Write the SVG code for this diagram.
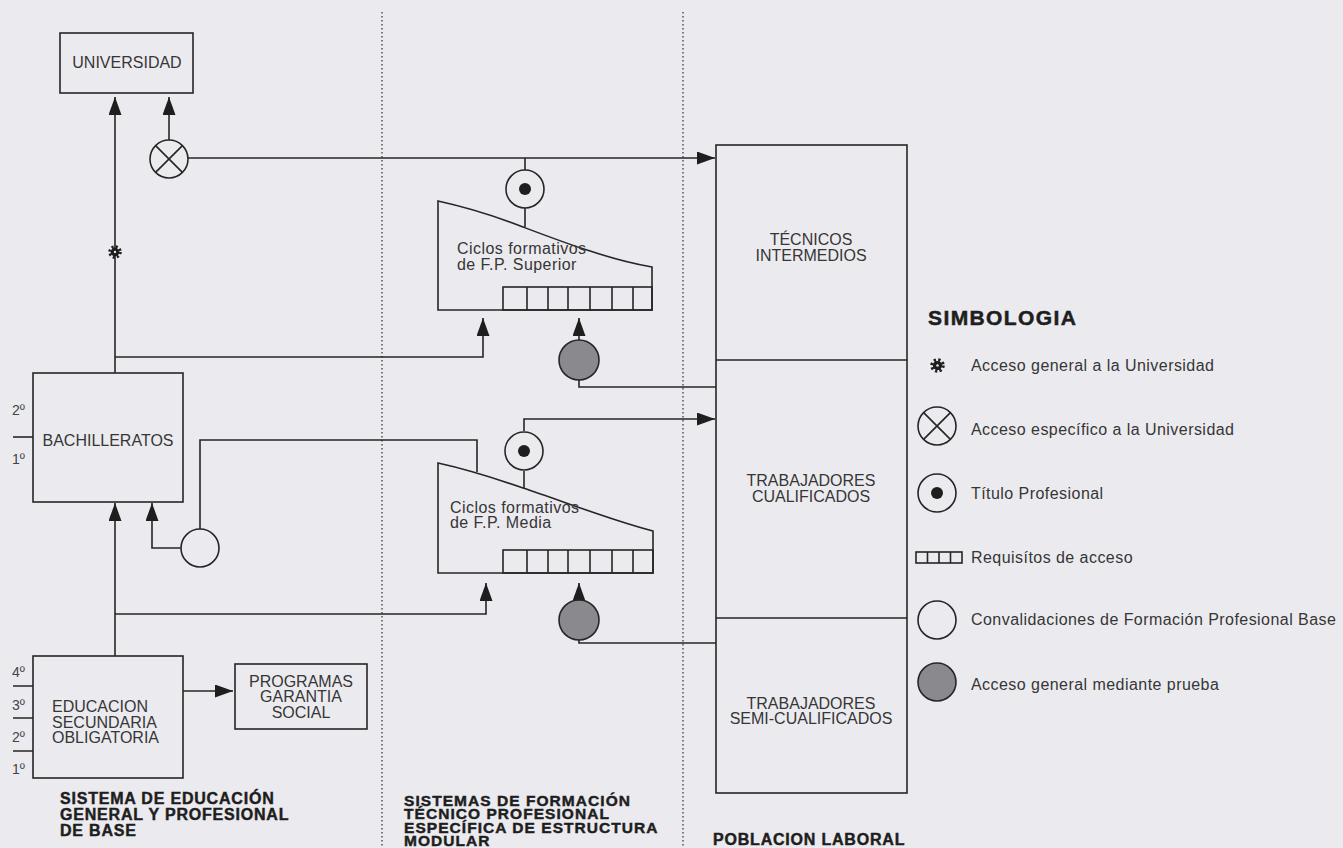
<svg xmlns="http://www.w3.org/2000/svg" width="1343" height="848" viewBox="0 0 1343 848">
<defs>
<style>
.bg{fill:#ebebef}
.box{fill:none;stroke:#262626;stroke-width:1.6}
.ln{fill:none;stroke:#262626;stroke-width:1.6}
.dot{fill:none;stroke:#555;stroke-width:1.5;stroke-dasharray:1.5 2.5}
.t{font-family:"Liberation Sans",Arial,Helvetica,sans-serif;font-size:16px;fill:#363636}
.tc{text-anchor:middle}
.lc{letter-spacing:0.45px}
.ord{font-family:"Liberation Sans",Arial,Helvetica,sans-serif;font-size:14px;fill:#444}
.h{font-family:"Liberation Sans",Arial,Helvetica,sans-serif;font-size:16px;font-weight:bold;fill:#1e1e1e;stroke:#1e1e1e;stroke-width:0.45;letter-spacing:0.8px}
.h2{font-size:15.5px;letter-spacing:1.05px}
.sym{fill:none;stroke:#262626;stroke-width:1.6}
.gray{fill:#8a8a8e;stroke:#262626;stroke-width:1.6}
.open{fill:#ebebef;stroke:#262626;stroke-width:1.6}
</style>
<marker id="ah" markerUnits="userSpaceOnUse" markerWidth="18" markerHeight="13" refX="18" refY="6.5" orient="auto">
<path d="M0,0 L18,6.5 L0,13 z" fill="#1e1e1e"/>
</marker>
<symbol id="gear" viewBox="-6 -6 12 12">
<circle r="3.7" fill="#1e1e1e"/>
<circle r="4.5" fill="none" stroke="#1e1e1e" stroke-width="2.6" stroke-dasharray="1.77 1.77"/>
<circle r="1" fill="#ebebef"/>
</symbol>
</defs>
<rect class="bg" x="0" y="0" width="1343" height="848"/>

<g id="dividers">
<line class="dot" x1="382" y1="12" x2="382" y2="848"/>
<line class="dot" x1="683" y1="12" x2="683" y2="848"/>
</g>

<g id="connectors">
<path class="ln" d="M115,373 V97" marker-end="url(#ah)"/>
<path class="ln" d="M115,656 V503" marker-end="url(#ah)"/>
<path class="ln" d="M115,357 H483 V318" marker-end="url(#ah)"/>
<path class="ln" d="M115,614 H486 V583" marker-end="url(#ah)"/>
<path class="ln" d="M169,140 V97" marker-end="url(#ah)"/>
<path class="ln" d="M188,158 H715" marker-end="url(#ah)"/>
<path class="ln" d="M525,158 V170 M525,208 V227"/>
<path class="ln" d="M579,340 V318" marker-end="url(#ah)"/>
<path class="ln" d="M579,380 V387 H716"/>
<path class="ln" d="M181,548 H152 V503" marker-end="url(#ah)"/>
<path class="ln" d="M200,529 V440 H477 V472"/>
<path class="ln" d="M524,431 V419 H715" marker-end="url(#ah)"/>
<path class="ln" d="M524,471 V488"/>
<path class="ln" d="M579,600 V583" marker-end="url(#ah)"/>
<path class="ln" d="M579,640 V643 H716"/>
<path class="ln" d="M183,691 H233" marker-end="url(#ah)"/>
</g>

<g id="universidad">
<rect class="box" x="60" y="33" width="133" height="60"/>
<text class="t tc" x="127" y="68">UNIVERSIDAD</text>
</g>

<g id="acceso-general-univ">
<use href="#gear" x="108" y="245" width="14" height="14"/>
</g>

<g id="acceso-especifico-univ">
<circle class="open" cx="169" cy="159" r="19"/>
<path class="sym" d="M155.6,145.6 L182.4,172.4 M182.4,145.6 L155.6,172.4"/>
</g>

<g id="bachilleratos">
<rect class="box" x="33" y="373" width="150" height="129"/>
<text class="t tc" x="108" y="446">BACHILLERATOS</text>
<text class="ord" x="12" y="415">2º</text>
<text class="ord" x="12" y="464">1º</text>
<line class="ln" x1="13" y1="437" x2="33" y2="437"/>
</g>

<g id="convalidaciones">
<circle class="open" cx="200" cy="548" r="19"/>
</g>

<g id="eso">
<rect class="box" x="33" y="656" width="150" height="122"/>
<text class="t" x="52" y="712">EDUCACION</text>
<text class="t" x="52" y="728">SECUNDARIA</text>
<text class="t" x="52" y="743">OBLIGATORIA</text>
<text class="ord" x="12" y="677">4º</text>
<text class="ord" x="12" y="710">3º</text>
<text class="ord" x="12" y="742">2º</text>
<text class="ord" x="12" y="774">1º</text>
<path class="ln" d="M13,686 H33 M13,718 H33 M13,751 H33"/>
</g>

<g id="programas">
<rect class="box" x="235" y="664" width="132" height="65"/>
<text class="t tc" x="301" y="687">PROGRAMAS</text>
<text class="t tc" x="301" y="702">GARANTIA</text>
<text class="t tc" x="301" y="718">SOCIAL</text>
</g>

<g id="fp-superior">
<path class="box" d="M438,201 C470,208 500,218 523,227 C560,241 610,260 652,267 V310 H438 Z"/>
<rect class="box" x="503" y="287" width="149" height="23"/>
<path class="ln" d="M527,287 V310 M548,287 V310 M568,287 V310 M590,287 V310 M612,287 V310 M633,287 V310"/>
<text class="t lc" x="457" y="254">Ciclos formativos</text>
<text class="t lc" x="457" y="270">de F.P. Superior</text>
</g>

<g id="titulo-superior">
<circle class="open" cx="525" cy="189" r="19"/>
<circle cx="525" cy="189" r="6" fill="#1e1e1e"/>
</g>

<g id="prueba-superior">
<circle class="gray" cx="579" cy="360" r="20"/>
</g>

<g id="fp-media">
<path class="box" d="M438,463 C470,470 500,480 523,488 C560,500 610,520 653,531 V573 H438 Z"/>
<rect class="box" x="503" y="550" width="150" height="23"/>
<path class="ln" d="M527,550 V573 M548,550 V573 M568,550 V573 M590,550 V573 M612,550 V573 M633,550 V573"/>
<text class="t lc" x="450" y="513">Ciclos formativos</text>
<text class="t lc" x="450" y="528">de F.P. Media</text>
</g>

<g id="titulo-media">
<circle class="open" cx="524" cy="451" r="19"/>
<circle cx="524" cy="451" r="6" fill="#1e1e1e"/>
</g>

<g id="prueba-media">
<circle class="gray" cx="579" cy="620" r="20"/>
</g>

<g id="poblacion-laboral">
<rect class="box" x="716" y="145" width="191" height="648"/>
<path class="ln" d="M716,360 H907 M716,618 H907"/>
<text class="t tc" x="811" y="245">TÉCNICOS</text>
<text class="t tc" x="811" y="261">INTERMEDIOS</text>
<text class="t tc" x="811" y="486">TRABAJADORES</text>
<text class="t tc" x="811" y="502">CUALIFICADOS</text>
<text class="t tc" x="811" y="709">TRABAJADORES</text>
<text class="t tc" x="811" y="724">SEMI-CUALIFICADOS</text>
</g>

<g id="section-titles">
<text class="h" x="60" y="804">SISTEMA DE EDUCACIÓN</text>
<text class="h" x="60" y="820">GENERAL Y PROFESIONAL</text>
<text class="h" x="60" y="836">DE BASE</text>
<text class="h h2" x="404" y="806">SISTEMAS DE FORMACIÓN</text>
<text class="h h2" x="404" y="819">TÉCNICO PROFESIONAL</text>
<text class="h h2" x="404" y="833">ESPECÍFICA DE ESTRUCTURA</text>
<text class="h h2" x="404" y="846">MODULAR</text>
<text class="h" x="713" y="845">POBLACION LABORAL</text>
</g>

<g id="simbologia">
<text x="928" y="325" style="font-family:'Liberation Sans',Arial,sans-serif;font-size:21px;font-weight:bold;fill:#1e1e1e;stroke:#1e1e1e;stroke-width:0.5;letter-spacing:1.4px">SIMBOLOGIA</text>
<use href="#gear" x="930" y="358" width="15" height="15"/>
<text class="t lc" x="971" y="371">Acceso general a la Universidad</text>
<circle class="open" cx="937" cy="426" r="19"/>
<path class="sym" d="M923.6,412.6 L950.4,439.4 M950.4,412.6 L923.6,439.4"/>
<text class="t lc" x="971" y="435">Acceso específico a la Universidad</text>
<circle class="open" cx="937" cy="493" r="19"/>
<circle cx="937" cy="493" r="6" fill="#1e1e1e"/>
<text class="t lc" x="971" y="499">Título Profesional</text>
<rect class="box" x="916" y="552" width="46" height="11"/>
<path class="ln" d="M927.5,552 V563 M939,552 V563 M950.5,552 V563"/>
<text class="t lc" x="971" y="563">Requisítos de acceso</text>
<circle class="open" cx="937" cy="620" r="19"/>
<text class="t lc" x="971" y="625">Convalidaciones de Formación Profesional Base</text>
<circle class="gray" cx="937" cy="682" r="19"/>
<text class="t lc" x="971" y="690">Acceso general mediante prueba</text>
</g>
</svg>
